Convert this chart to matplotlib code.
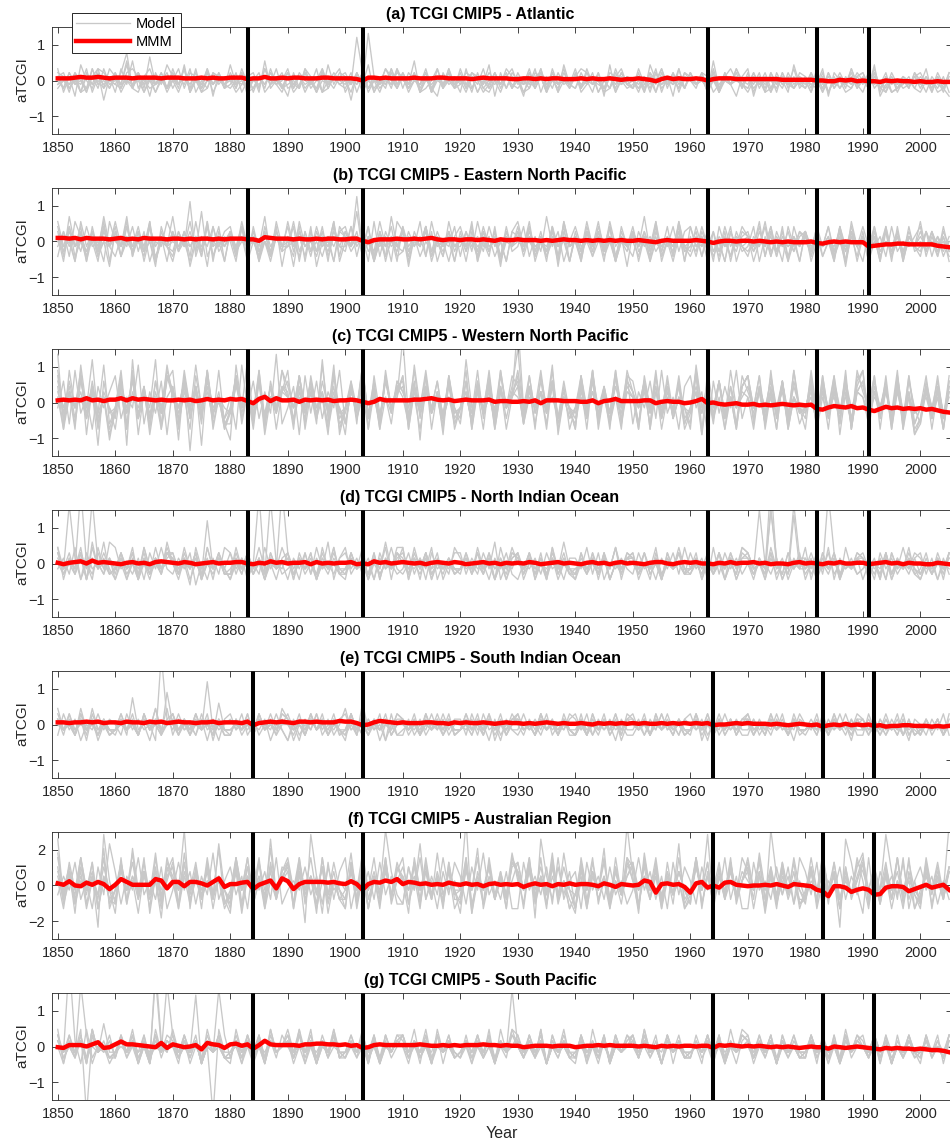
import numpy as np
import matplotlib.pyplot as plt
from matplotlib.lines import Line2D

plt.rcParams['font.family'] = ['Liberation Sans', 'DejaVu Sans']

years = np.arange(1850, 2006)
xtick_years = np.arange(1850, 2001, 10)

titles = ['(a) TCGI CMIP5 - Atlantic',
          '(b) TCGI CMIP5 - Eastern North Pacific',
          '(c) TCGI CMIP5 - Western North Pacific',
          '(d) TCGI CMIP5 - North Indian Ocean',
          '(e) TCGI CMIP5 - South Indian Ocean',
          '(f) TCGI CMIP5 - Australian Region',
          '(g) TCGI CMIP5 - South Pacific']

eruptions_nh = [1883, 1903, 1963, 1982, 1991]
eruptions_sh = [1884, 1903, 1964, 1983, 1992]

# series are written one char per year, one group per decade:
# '0'..'9','A'..'F' = +0..+15 steps, 'a'..'o' = -1..-15 steps
POS = "0123456789ABCDEF"
NEG = "abcdefghijklmno"

# (a) Atlantic
atl_models = [
    "21a0cb1320 ab2310ba1c 03b21a2c0a 1b3a02ca1b 2ab31c0a20 1aB2b0c1a3 b20a1c3b01 a21c0b2a31 0cb12a0b2a 1320ab1c0b a1b203a2c1 0b21ca130a b2a01c2b1a 0ab2c01b3a c1a0b2a10b 1a0cb2",
    "a1c20b3a1b 2a0bc13a02 b1a3c0b21a 0ca12b30ac 1b20a3cb10 a2c1b0a31b 2a1cb03a0b 1b20ca2b13 a0b21c0a3b 2ca10b21a0 b3a0c2a1b2 0a1c3b0a2b 1a2cb10a3b 0c1b2a0ab1 a2b0c1ba1b c0a1b2",
    "0b2a1c3a0b 1a4b2a0c1b 3a1b0cb2a1 0a2c1b3a02 ba1c0b2a13 c0a2b1a30b 1b2c0a1b3a 0a21bc0a2b 1c0a3b2a0a b2a1c0b3a1 0ba2c1a0b2 1a0b2c1a30 a2b1c0b2a1 0c2a1b0a2b 1a3b0cb1a0 a1b2a0",
    "12b0a3c1a0 a27b1c0a2b 0c1a2b3a1b 2a0cb1a20b 1ca2b03a1a b1a2c0a1b3 0a2b1c0a2b 3ab1a20c1a b0a3c1b2a0 1b2a0cb13a 0c1b2a0a1b 2a1c0b2a3a 1b0c2a1ab0 b2a0c1b0a1 2a1bc0a1b2 0c1ab0",
    "3c1d40b2e1 c3a5b1d2a4 1b4c0a3d2b 4a2d1c5b0a d2b3a1c4a2 1e2a4c0b3a 2a5c1bd2a0 c3b1a4d2b1 0d2a3b1c4a 3b0a2d4c1a b2c40a1d3b 2a1c5b0ad1 3d1b2a0c4a b1a3d20cb1 2b4da1c0b2 a3c1bd",
    "a0b1c2a3b0 2b1a0c1a2b 1a3c0b2a1a b0a2c1b3a0 2a1b0c3b1a 0c2aC1b0a2 1b0a2c1a3b a1c2b0a1b2 0a2b1c3a0b 1a0c2b1a2a b0c1a3b2a1 0a1b2c0a1b 2c1a0b2a0a 1b3c0a2a1b 0a2b1cb0a1 2a0b1c",
    "1b2a0c1b3a 0a5b2a1c0b 2a1b3c0a1b a2c0b1a2a0 3b1a0c2b1a 0a2b1c0a2b 1c0a3b1a0a 2b1c0a2a1b 0a3b2a1c0a b1a2c0b2a1 0b1a3c1a0b 2a0b1c2a1a c0a2b1a0b2 1a0c2b1a3a 0b2c1a0ba1 b1a0c1",
    "b0a2c1a0b3 1c0a2b6a1b 0a3c1b0a2a 1b2c0a1a3b a0b2a1c0b1 2a1c0b0a3a 1b0a2c1b2a 0c1a3b0a1b 2a0b1c2a0a 1b3a0c1b2a 0a1c2b0a3b 1a2b0c1a0a b1a0c2a1b0 a2b1c0b1a2 0b1a2cb0a1 a0c1b0",
]
atl_mmm = "3334544543 4443444434 4433343433 4442335334 3443334433 3320443433 3343334433 3323433332 2332323322 2323223212 2321a24232 2320233322 2222221111 1100aa101a 0aab0a0aab abbabb"

# (b) Eastern North Pacific
enp_models = [
    "3b1d4a2c0e 2a5c1b3d0a c2a4b1e3a1 0d3b2a5c1b 4a1c3e0b2a b3a1d4c2a0 2e1a3b0c4a 1b4d2a0c3b a3c1b5a2d0 3a0c2b4a1e 2d1a3c0b4a 0b3a2d1c2a c1a4b0d3a2 1b3c0a2d4a d2a1c3b0a1 3c1b2a",
    "a2c41b0d3a 1c3a0b4d2a 5b2a1c3a0d 2b4a1c0b3e 1a3d2b0a4c 2a1b3d0c5a b1a4c2d0a3 c2a1b3a0d2 4a1c0b3e2a 1d2a4b0c1a 3b0d2a1c4b a2c1d3a0b2 1a4c2b0d3a 2b1a3c0a2d 1c3b0a2d1a 4b2a0c",
    "1d3a0c2b5a 3c0b2a4d1a b2a8c1a3b0 2a1d3b0c2a 0c4a1b2d3a a3c2b0a1d4 2b0a3c1a2b 1a3d0b2c1a 3b2a0c1d4a 0d2a1b3c0a 2a5b1c0a3d 1c2a0b3a1b a3d1c2a0b2 0b2a1d3a1c 2d0a3b1c0a 1a2c3b",
    "4a0d2c1b3a c1a3b2d0a4 1b2e0a3c1a 2c3a1d0b2a a4b1c2a0d3 1a2c0b4a1d 3b1a2d0c2a 0a3c1b2d0a 2c1a0b3a1d 1b4a2c0d3a c2a1b0a3b2 3a1d2b0c1a 0b2a3c1a0d 2a1c0b3d2a 1d2b0a1c3b a2c1a0",
    "2c5a1d3b0a 1a4c2b0e3a d1a2b6c0a2 3b0a1d2c4a 1e2a0b3c1a 2a6b1d0a3c b2a1c4a0d1 3a0c2b1e2a 1b3d0a2c4a 0c2b3a1d0b 2a1c4d0a3b a1c2b0d2a3 1d0a3b2c1a 2b3a0c1e2a 0a1d3c2b1a c2a0b1",
    "0b2a3d1c2a 4a1b0c3a1d 2a0d1b4c0a 1c3a2b0d1a 3b2a0c1a4d 0a9b1c2a0b 2d1a3c0b1a a2b4a1c0d2 1a3b2c0a3d 2b0a1d3c1a 0c2a4b1a2d 3a1b0c2d1a b0a3c1a2b1 2c1a0d2b3a 1a3c0b2d1a b2a1c0",
    "1a3c0b2a4d 2c1a3b0d1a 0a2c4b1a3d 2b1a0c3a1b a3d2b0c1a2 1b0a3c2d1a 3a1c0b2a0d 1d2b3a0c2a 2a0b1d3c1a 0c3a2b1d0a 1a2d0b3c2a b3a1c0d2a1 2b0a1c3d0a 1c2a3b0d1a 3a1d2c0b2a 0b2a1d",
    "c2a1b3a0d4 0a3b2d1c0a 2b0a1c4d2a 1a3d0b2c1a a0c2b3a1d2 3a1b0d2c0a 1c2a3b0a2d 2b1a0c3d1a 0a4c1b2a0d 1b2c0a3d2a 2a1b3c0d1a c0a2b1a3d0 1a3c2b0a1d 2d0a1c3b2a 0b1a2d3c1a 2a0c1b",
]
enp_mmm = "5545354443 4534354443 4434344343 4443316544 4343343443 3441a23334 3343453233 2332321322 3222121232 2121212121 1210a12111 1210b01101 1010a0a0aa a0bca0a0aa agfeddccdd dddfgh"

# (c) Western North Pacific
wnp_models = [
    "5c2e7a3d1f b4e6c2a8e1 3g5a2d6b0c 1e7a4c2b9d a3f5b4c2a6 d2a7c3e1b4 2a4g5b1d3a c8a2e4b6a1 3d5b2a7f1c a4c6e2b3a5 d2a4c6b1e3 5a2f4b3a6c 1e3b5a2d4a c6b2e4a1d5 3a5c2b6e4a d2b5c3",
    "a4d6b1e3a2 5c1a7d2b4f 3b1e5a2c6d d4a8c1b3e2 6d2b4a1f5c a3b7e2c4a1 5d3a6b2c4e a1c4b2d6a3 Ab3e5a1c4b d2a6c3b1e5 4a2d5b3c1a e6a2c4b3d5 2a5c1e4b3a b5d3a1c6e2 4a2c5d3b1e c3a4b2",
    "6b2d4a8c1e a3b5f2c4a6 2e4b7a3d1c a5c2b6e4a3 1d5a3c7b2e a4d6b2c5a1 Cc3a5e2b4d a1b6c3e2a5 3d1a4b6c2a e5b2a3d1c6 2a4e5b3c1a d7a2c4b1e3 5a2d6c3b1a e4c2a5b3d6 2a5e3c4b2d a5c1e3",
    "3e1a5c2h4b a6d2b3c1e5 2a4i3c6b1d b5a2e4c3a6 1c3d5a2b7f a3c1b4d6a2 5e3b2a4c1d a6e3b1c5a2 4d2a6b3e1c a5c4d2b6a3 1e5a3c2b4d a6e2b4c1a3 5d3a2e4c6b a1d4c2b5e3 6c2a4e3d5b a1c3e2",
    "9d2a6f3b1g a5h8c2e4b7 1c6a3h5b2d g7a2c4f1b6 3a5b2d8c1a f4a6c2e5b3 1d7a3b2f5c a4e2b6c3a1 Fa5b2d4c3e a1c6b2e5d4 2d4b6c1a3e b5f2a4c6a1 3a5e2b4c6a a1c3b5f2d4 6e2a3d5b1f d4a2c5",
    "2b4a1c3e2a c4b1a3d2b5 1a3c2b4a1e b3a2c5d1a2 4a1c3b2e1a d2a3b1c4a2 3b1e2a4c1b a2d4b1a3c2 1b3a2e4c1a c3a2b1d5a2 1e3b2a4c1d a2b4c1e3a2 1b3c2a4d1b a3e1c2b4a2 1d3a2c4e1b a2c3b1",
    "4a3c5b2d1a e3a4c2b1d5 2a4c3b6e1a b5d2a4c3b2 1a5e2c4a3d b2a4c1d5a3 4e2b3a1c5b a2d3b4e2a1 5c3a2b4d1a b3e5a2c1b4 2d4a3e1b5c a3b2d4e1a3 5c2a4b3e1d a2c5b3d4e2 4b1a3e2c5d a3e2c4",
    "1e6a2c4b7d a2e5c3f1b4 6d2a3c5b1e a4b2d6c1b3 2e5a4c1d6b a3c2e5b1d4 2a6c3b1e5a d4b2a5c3e1 6a3d2b4c1a e5a2c3b6d2 1a4e2c5b3a b2f6a4c1e3 5a2d3c4e1b a3e5b2d4c2 1b4a3d5c2f c3a1e4",
]
wnp_mmm = "3434363424 4636454343 3434235343 5452a58263 3414343423 3431a15333 3344564342 3433341221 1213a33322 2113a23522 2233a1211a 025a0bcbac cbdcdcbcdc dcijgefgeh gjlifhgihi hjikmn"

# (d) North Indian Ocean
nio_models = [
    "2aB1c0c3a1 b2a3c1a0b2 1a0d3a1c2a 2b1a0Db1a0 c1a2b3a0b1 2a1b0c1a3a b0a1c2a0b3 1a0b2a4c0a 2b0a1c3b1a a0b2c1a3b2 1b0a3c2a0b 2a1c3b2a1b 0c1aA0b2a1 1a2b3c1a0b a0b1c2a3a1 b0a1c2",
    "a1b3c2a0b4 3a0b1c2a3a b1a2d0c1b3 2a1c0b3a1b a0c2b1a4c1 3b0a1c2a0b a2b1a3c0a2 2b1a0c1a2b c0a1b2a0c1 1a3b2c0a1a b2a0c1a2b3 a2c1b0a2a1 1b0a2c0b1a 3c1a2b0a1b a1a0c2a0b1 2b1c0a",
    "3c1aE0b2a1 a2c0b3a1b4 0b2a1c3a2a c1b2a1bC0a 2a1b0c3a0b b0a3c1a4a1 2a0b1a2c0b a1b2a0c1a3 0a1b2c3a1b c2a0b1a3a2 1a2b0c1a0b a0b1a2c0b3 2a0b3a1c0a 1b0aD2b0a1 c0c2a1b0a2 1a0c1b",
    "0a2b1c4a2a c1b0c3a1b2 2a1c0b8a1b b0b2a3a0c1 2c1a0b2a3b a1a0b2c1a3 3c1a2b0a1b a2a0b1c3a2 1b2a0c1b0a b0a1b2a3c1 2b0a1c2a3a a1a2b0a1c0 0b1c2a0b9a a2a0b1c3a1 1c0a2b1a0b c0a1b2",
    "2b0a3c1a4b a1a2c0b1a2 0b1a2c3a1b b3a0b1c2a0 1c2a0b1a3b c2a0c1b0a2 1b3a2c1a0a a0a2b1a0c1 2c0a1b2a4a b1a0b2c0a1 0b2a1c0a2a a1c0b2a1a3 2a0c1b0aB1 b0b2a1c0a2 1a0c2b1a3b a2b0a1",
    "1a0b2aC0b1 c0c1a2b0a1 2b3a1c0a2b a1a2b0c1a3 0b1a2c0b1a b2a0b1a3c2 0a1c2a0b1a a1b3a2c0a1 2a1b0a1c0a c0b2a1c0b1 1a0c2b0a2a b0b1a0c2a1 2aA0b1c0a1 a0b1a2c0a2 1a0b2c0a1a c0b2a1",
    "0b1a2c3a1b a2a0c1b3a0 1b0a2c0b1a c0a2b1c0aE 2b0a1c0a2a a1a0b2c1a0 3c1a2b0a1a b2b0a1c0b2 1a2c0b1a0b a0a1b2c0a1 2c0a1b0a2b b1a0b2a1c0 0b1aF0b2a1 a1c0a2b0a1 0a1c2b0a1a b1b0a2",
    "3a0b2c1a0b a1a2b0c1a3 0c1a2b0a1b b2a0b1c2a0 1b0a2c1a0b a2a1c0b0a2 0b2a1c0a1b a1a0b2a1c0 0a2c1b0a2b b2b0a1c0a1 1a2b0c1a0b a0b1a2c0b2 1a0bA1c0a2 c0c2a1b0a1 2a0b1c0a2a b0b1a2",
]
nio_mmm = "1a12304121 0a1201a232 1021a01201 1220a10312 0112a20101 12a0a31201 2101a12102 1a01201a10 1021a01201 0a1201a120 10a1220a12 1200a10201 1201a00a12 010a102001 1a01201a10 0aa10a"

# (e) South Indian Ocean
sio_models = [
    "1a0b2a1c0b a0a2b1a0a3 b1a0b2a0c1 2a0a1b0a2a c1b0a2a1b0 3a0b1a0c2b a0a1b0a2a1 1b2a0c1b0a b0a1a2b0a1 2a0b1a0c1a a1b0a2a0b1 0a1b0a2a0b b1a0b1a0a2 0a2b1a0b1a a1a0b0a2b0 b1a0b1",
    "b2a1c0a2a1 0b2a1a0cD1 a2a0b1c1a0 1a2b0a1c0a c0c1a2b0a1 2a0b1a2c0b b1b0a2a1b0 0a1b2a0c1a a2a0b1a0a2 1a2b0a1a0b b0b1a2a0b1 2a0c1b0a1a a1b0a2a0c1 0a1b0a2a1b b2a0b1a0c1 0b1a2b",
    "0a1b2a0b1a a2a0b1a3b0 1b0a2a0b1a a0a2b1a0a2 1a0b2a1b0a b2b4a0a1b0 0a1b2a0a1b a1a0b1a2b0 2a0b0a1b1a b0b2a1a0b2 1a0b1a0a1b a2a1b0a1b0 0b1a0a2b1a a1a0b1a0b0 0b1a2a0b1b a0a1b0",
    "3a0b1c2a0a b1b5a0c1a0 2a1b0a2c1a a0a2b1a0b3 1c0a2a1b0a c2a0b1a0a2 1a2b0a1b0a a0b1a2c0a1 2a0b1a0b2a b1b2a0a1c0 0a1b2a0b1a a2c0a1b0a1 1a0b2a1b0a b0b2a1a0c1 1a0b1a2b0b a0a1b2",
    "1b2a0a1b0a a0a1b2a0b1 2a0b1a8a0b b1a0b2a0a1 0b1a2a0b1a a2a0b1c0a2 1b0a2a0b1a a0a2b1a0a1 1a0b2a1b0a b0b1a0a2b1 2a1b0a1a0b a0a2a1b0a1 1b0a2a0b1a a0a1b1a0a2 1a0b0a1b0a b1a1b0",
    "2a0a1b3a0b a1a0b2a1a0 0b1a2a0b4a b1a0b1a2a0 0a2b1a0a1b a2a1b0a2b0 1a0b1a0a2b a0b1a2a1b0 1a0b2a0a1a b2b0a1b0a1 0a2b1a0b1a a1b0a2a1a0 2a0b1a0b1a a0a1b0a2a0 1b0a1a0b1b a0a1b0",
    "0a2b1a0b1a a1a0b2a3a0 2b1a0a1b0a a0a1b2a0a2 1a0b1a2b0a b0b2a1a0a1 1a0b2a1b0a a2a0a1b0a2 0b1a2a0b1a a1a0b1a2a0 0a1b2a0b1a b2a0b1a1b0 1b0a1a0b2a a0a1b2a0a1 a0b1a0b1a0 b0a1b0",
    "1a0b3a0a1b a2a0b1a0b6 0a1b2a0a1b b1b0a2a1b0 2a0b1a0a2b a1b2a0a1b0 0a1b0a2a1b a2a0b1a0b1 1a0b2a0a1b b0b1a2b0a1 1a0b1a2a0b a0a2b0a1b1 2a0b1a0a1b a0b1a2a0b1 a0b1a0b1b0 a1b0a0",
]
sio_mmm = "3323343423 3243324342 3433233423 3324a23434 3244343335 442a035432 3222332213 2322321232 2121232121 1210212121 2121121212 1212a00121 2111010a01 0a0ca0a1a0 a0bacbbaab bbcbcb"

# (f) Australian Region
aus_models = [
    "4d1b6a3e2c a5a1f3b7c2 4e2a5c1b8d b3a6b2e4a1 5d3a2f6b1a c4c7a2d3b5 1a4c6b2d3a f5f1a4c2e6 3a5d1b4c7a b2e3a6c1d4 5a2c4e1b3a d6d2a5b3c1 4a3f2b5a1c c3d6a2e4b1 5c2d3a6b1e a2a4c3",
    "b2a5c1e4b9 3d2a6b1c4e a5a3d2b7c1 4b2e5a3c6d a1a4b2f5c3 6e1a3c5b2d d4a6c1e3b5 2d4a7b1c3e e5a2b4d6c1 3e5a2c4b1d a6a3c2e5b4 1d4a3b6c2e e5a1c4b2d6 3b5e1a4c2a f6d3a2b5c1 4a2d1c",
    "6b3d1a5e2c d4a7c2b3d6 1e5b3a4c2d a6a2c5e1b4 3d6b2a4f1c e5a3e2b6c4 2d5a1c7b3e b4a2d6b1c5 3e4b2a5d1c f6a3c1e4b2 5d2a6c3b1e c4a5d2c1b6 3e2a4c5b1d b6a2b3e4c1 5b1d4a3c6e b2a5b3",
    "Ac3f6a2iB1 d4d8a3c1g5 2aCe4b1c9a c3f2a6dAb1 5a3hB2d4a1 a7c2e1aC3b d4a9c2b6a1 aEf3a5c2b7 1a6gA2c4b3 e5c2a8e1bD 2f6a3c1b9e b4aBd2a5c1 6a3eC2b4d1 c3c7a2iA5b 5d2aB3c6e1 d4b3aD",
    "3a4c2b5e1a f6d2a3b4c1 5a2d3c6b1a e4e2b5a1c3 6a4c2e1b5a c3d2a6c4b1 2a5d3b1c4a d6e2a4c3b1 5a3c2e6b4a e1d5a2c3b6 4a1c5d2b3a b6e3a2b4c1 5a2e4b3c1a c4d6a2c1b5 3a4d2c6b1a c5e2a3",
    "1e3a6d2b4a c5c1a3e6b2 4a5c1b3e2a d6d4a2c5b1 3a6d2b4c1a e5e2a3b6d1 4a2e5c3b1a a6d1a4c2e5 3a6c2d4b1e b5a3c1d6b2 4e5a2c3b1d a6a2d4c5b3 1a5c3d2b6a d4e1a5c3b2 6a4c2e1b5a c3d2a4",
    "7b2d4a1c8e a3a5b6f2a4 1d7a3e5b2c f6a4d1b8c3 5e2a6b4d1c c3a7c2e5b4 1f6a3c2d5b a4a8e1b3c6 2d5a4b7c1e b3a6d2c4b5 1e7a3b2d6c a4a5e2b6d1 3c7a2e4b5d c1a6c3e2b4 7d2a5c1e3b d6a2c4",
    "2c5a3e1b6d a4a2c5b1e3 6d3a2c4b1e b5a6d1b3c2 4e5a2d6b3c a1a4e2b5c3 6d1a4b2e5c c3a6d2c1b4 5a3c6d2b1a e4e2a5c3b6 1a4c2e5b3a d6d2a3c4b1 5a6c2d1b3e a4a3d5c2b6 1e4a3c6d2b e5a1c4",
]
aus_mmm = "3160a4152e 195111197d 55a55305Ab 2245e147dA 6e25555453 262f254759 2542312142 1312a23121 2b1312a213 1221a31b21 0175j2312b j35c0c4510 a001020b21 0afhoaacif dfmlcaabhe b1ca1f"

# (g) South Pacific
spa_models = [
    "2aF1c3b0a2 b1b0a2cE1a 3a1c0b2a1b a0c2a1b3a0 1b2a0c1a2b b0a3c1b0a2 2b1a0c3a1b a0c2a1b0a2 1a0b3c1a0b c2c0a1b2a0 1b3a0c1a2b a0a1c2b0a3 2b0a1c0b1a a1c2a0b3a1 0a2c1b0a2a a1b0a2",
    "1b0a3l2a0c a2a1b0c3a1 0a2b1c0aA2 b1c0a2b1a0 3a0c1b2a1a a0b2a1c0a2 1a3b0a2c1a b0b1a2c0b3 2a0b1c2a0b a1c3a0b1a2 0b1a2c0a1b b2a0c1b3a0 1b2a0c1a2b a0a1b2c0a1 2b0a1c2b0a b1a0b2",
    "3c1a2b0a4a a1a0c2bC0a 2b0a1c3a0b b1a2c0a1b2 0b3a1c0a2b a2a1b0c2a1 0c1a3b0a2b a1a0b2c1aA 0b2a1c0b1a b2a0c1b2a0 1b3a0a2c1a a0a2b1c0a2 1c0a2b1a0b b2a1b0c2a1 0b2a1c0b2a c2b1a0",
    "0a2b1c3a0b b2a1c0a2b1 0b1a2c0l3a a1b0a2c1a0 2a3c0a1b2a b1b0a2c1b0 2a0b1c2a0b a1a2b0c1a0 0b2a1c0a3b b1a0b2c1a0 2b1a0c2a1b a0a2b1a0c1 2b0a1c2a0b a1a0c2b1a0 0b1c2a0b1a a0a1b2",
    "2b0a1c2a0b a1a3b0c2a1 0c2a1b0a2b c3a0b1c2a0 1b2a0c1b3a a0a1c2b0a1 2a1b0c2a0a b1c0a2b1a2 0a1b3c0a1a b2b0a1c2a0 1a2b0c1a0b a0c2a1b0a2 1b0a2c1a0b b2a1c0b2a1 0b2a1c0a2b a1a0b2",
    "1a0b2c3a1b a0a2c1b0a2 1b0a9c1a0b b2a1b0c3a0 1c0a2b1a2b a0a1b2c0a1 2b0a1c2a0b a1a2b0c1a3 0b1a2c0b1a b2a0b1c0a2 1b2a0c1a0a a0a1b2c0a2 1a0b1c2a0a b2b1a0c1a2 0a2b1c0a1a b2b0a1",
    "0c2a1b3a0b a1a2c0b1aB 2a0b1c0a2b b1b2a0c1a0 0a2b1c0a3b a2a0c1b2a1 0b1a2c0a2b a1a0b3c1a0 2b0a1c2a1b a0a1b2c0a1 2b1a0c2a0b b1a2b0c1a0 0b1a2c1b0a a2a0b1c0a2 1b2a0c1a0b a0a2c1",
    "1a0bB2c0a1 b2b1a0c2a1 0b2a1c0a2b a1a0c2b1a0 2b0a3c1b0a b1a2b0c2a1 0a1c2b0a1a b2b0a1c3a0 1a2b0c1a2a a0b1a2c0a1 2a0b1c2a0a b1b0a2c1a0 0a2b1c0a2a a1b0a1c2b0 0a1b2c0b1a b2a0b1",
]
spa_mmm = "ab222036ba 3733210a5b 31a02d532b 3413c28322 2213344332 312ba23222 2223211212 1222322121 1a01110111 a011212111 1010a10101 1011b21210 1010a0a0ab a0aac0aba0 abcdbcbccd cdeefh"

# model step, MMM step, y half-range, y ticks per panel
panels = [
    (atl_models, atl_mmm, 0.11, 0.02, 1.5, [-1, 0, 1], eruptions_nh),
    (enp_models, enp_mmm, 0.14, 0.02, 1.5, [-1, 0, 1], eruptions_nh),
    (wnp_models, wnp_mmm, 0.15, 0.02, 1.5, [-1, 0, 1], eruptions_nh),
    (nio_models, nio_mmm, 0.15, 0.02, 1.5, [-1, 0, 1], eruptions_nh),
    (sio_models, sio_mmm, 0.15, 0.02, 1.5, [-1, 0, 1], eruptions_sh),
    (aus_models, aus_mmm, 0.26, 0.04, 3.0, [-2, 0, 2], eruptions_sh),
    (spa_models, spa_mmm, 0.16, 0.02, 1.5, [-1, 0, 1], eruptions_sh),
]


def decode(s, step):
    vals = []
    for c in s.replace(" ", ""):
        if c in POS:
            vals.append(POS.index(c) * step)
        else:
            vals.append(-(NEG.index(c) + 1) * step)
    return np.array(vals)


W, H = 950, 1143
fig = plt.figure(figsize=(W / 100, H / 100), dpi=100)
dark = '#262626'
gray = '#c8c8c8'

for i, (models, mmm, mstep, rstep, ylim, yt, erupt) in enumerate(panels):
    top = 27 + 161 * i
    ax = fig.add_axes([52 / W, 1 - (top + 107) / H, 900 / W, 107 / H])
    for m in models:
        v = decode(m, mstep)
        ax.plot(years[:len(v)], v, color=gray, lw=0.95)
    r = decode(mmm, rstep)
    ax.plot(years[:len(r)], r, color='red', lw=3.2, solid_joinstyle='round')
    for e in erupt:
        ax.axvline(e, color='k', lw=2.9)
    ax.set_xlim(1849, 2005.5)
    ax.set_ylim(-ylim, ylim)
    ax.set_xticks(xtick_years)
    ax.set_yticks(yt)
    ax.tick_params(direction='in', top=True, right=True, length=4, width=0.6,
                   colors=dark, labelsize=10.5, pad=5)
    for sp in ax.spines.values():
        sp.set_color(dark)
        sp.set_linewidth(0.6)
    fig.text(22 / W, 1 - (top + 53) / H, 'aTCGI', rotation=90, ha='center',
             va='center', fontsize=11, color=dark)
    fig.text(480 / W, 1 - (top - 12.5) / H, titles[i], ha='center',
             va='center', fontsize=11.5, fontweight='bold')

fig.text(502 / W, 1 - 1133 / H, 'Year', ha='center', va='center',
         fontsize=11.5, color=dark)

handles = [Line2D([], [], color=gray, lw=0.95),
           Line2D([], [], color='red', lw=3.2)]
leg = fig.legend(handles, ['Model', 'MMM'], loc='upper left',
                 bbox_to_anchor=(72 / W, 1 - 12.7 / H), fontsize=10.5,
                 frameon=True, fancybox=False, edgecolor=dark, framealpha=1,
                 borderpad=0.3, handlelength=3.7, handletextpad=0.4,
                 labelspacing=0.25, borderaxespad=0)
leg.get_frame().set_linewidth(0.7)

fig.savefig('out.png', dpi=100)
